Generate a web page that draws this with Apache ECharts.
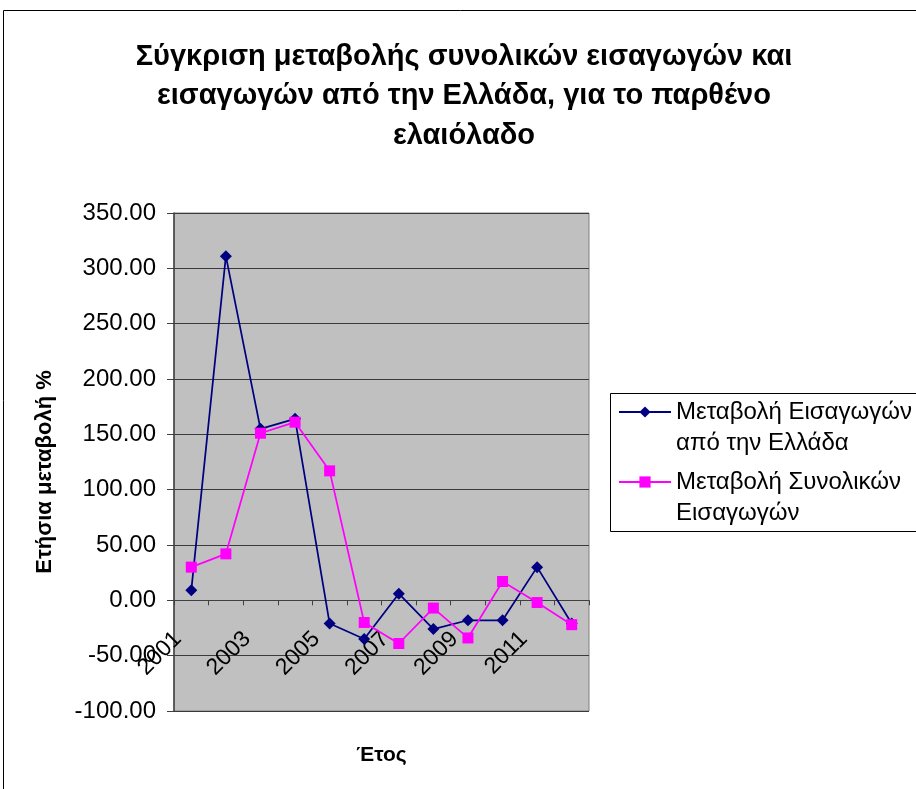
<!DOCTYPE html>
<html>
<head>
<meta charset="utf-8">
<script src="https://cdn.jsdelivr.net/npm/echarts@6/dist/echarts.min.js"></script>
<style>
html,body{margin:0;padding:0;background:#fff;}
#c{width:916px;height:789px;}
</style>
</head>
<body>
<div id="c"></div>
<script>
const years = ['2001','2002','2003','2004','2005','2006','2007','2008','2009','2010','2011','2012'];
const greeceImports = [9, 311, 155, 164, -21, -35, 6, -26, -18, -18, 30, -21];
const totalImports = [30, 42, 151, 161, 117, -20, -39, -7, -34, 17, -2, -22];
const yTicks = { min: -100, max: 350, interval: 50 };
const seriesNames = ['Μεταβολή Εισαγωγών από την Ελλάδα', 'Μεταβολή Συνολικών Εισαγωγών'];
const legendLabels = {
  'Μεταβολή Εισαγωγών από την Ελλάδα': '\nΜεταβολή Εισαγωγών\nαπό την Ελλάδα',
  'Μεταβολή Συνολικών Εισαγωγών': '\nΜεταβολή Συνολικών\nΕισαγωγών'
};

const chart = echarts.init(document.getElementById('c'), null, {renderer:'canvas'});
const font = 'Liberation Sans, Arial, sans-serif';
chart.setOption({
  animation: false,
  backgroundColor: '#fff',
  textStyle: { fontFamily: font },
  title: {
    text: 'Σύγκριση μεταβολής συνολικών εισαγωγών και\nεισαγωγών από την Ελλάδα, για το παρθένο\nελαιόλαδο',
    left: 464, top: 37, textAlign: 'center', padding: 0,
    textStyle: { fontFamily: font, fontSize: 29, fontWeight: 'bold', color: '#000', lineHeight: 39.5 }
  },
  graphic: [{
    type: 'rect', shape: { x: 3.5, y: 10.5, width: 1000, height: 900 },
    style: { fill: 'none', stroke: '#000', lineWidth: 1 }, z: -1
  }, {
    type: 'rect', shape: { x: 610.5, y: 393.5, width: 400, height: 138 },
    style: { fill: '#fff', stroke: '#000', lineWidth: 1 }, z: 0
  }],
  legend: {
    orient: 'vertical', left: 618, top: 365.5, padding: 0,
    itemWidth: 52, itemHeight: 14, itemGap: -23,
    data: seriesNames,
    formatter: n => legendLabels[n],
    textStyle: { fontFamily: font, fontSize: 24, color: '#000', lineHeight: 31 },
    z: 5
  },
  grid: { left: 174, right: 327, top: 213, bottom: 78, containLabel: false, outerBoundsMode: 'none', show: true, backgroundColor: '#c0c0c0', borderColor: '#808080', borderWidth: 1 },
  xAxis: {
    type: 'category', data: years, boundaryGap: true,
    name: 'Έτος', nameLocation: 'middle', nameGap: 34,
    nameTextStyle: { fontFamily: font, fontSize: 21, fontWeight: 'bold', color: '#000' },
    axisLine: { onZero: true, lineStyle: { color: '#404040', width: 1 } },
    axisTick: { show: true, interval: 0, length: 5, lineStyle: { color: '#404040' } },
    axisLabel: { interval: 1, rotate: 45, margin: -89, padding: [0, 19, 0, 0], fontFamily: font, fontSize: 23, color: '#000' },
    splitLine: { show: false }
  },
  yAxis: {
    type: 'value', min: yTicks.min, max: yTicks.max, interval: yTicks.interval,
    name: 'Ετήσια μεταβολή %', nameLocation: 'middle', nameGap: 118,
    nameTextStyle: { fontFamily: font, fontSize: 22, fontWeight: 'bold', color: '#000', padding: [0, 0, 0, -20] },
    axisLine: { show: true, lineStyle: { color: '#404040', width: 1.5 } },
    axisTick: { show: true, length: 7, lineStyle: { color: '#404040' } },
    axisLabel: { formatter: v => v.toFixed(2), margin: 18, fontFamily: font, fontSize: 24, color: '#000' },
    splitLine: { show: true, lineStyle: { color: '#3a3a3a', width: 1 } }
  },
  series: [{
    name: seriesNames[0], type: 'line', data: greeceImports,
    symbol: 'diamond', symbolSize: 12,
    lineStyle: { color: '#000080', width: 1.75 },
    itemStyle: { color: '#000080' }
  }, {
    name: seriesNames[1], type: 'line', data: totalImports,
    symbol: 'rect', symbolSize: 11,
    lineStyle: { color: '#ff00ff', width: 1.75 },
    itemStyle: { color: '#ff00ff' }
  }]
});
</script>
</body>
</html>
